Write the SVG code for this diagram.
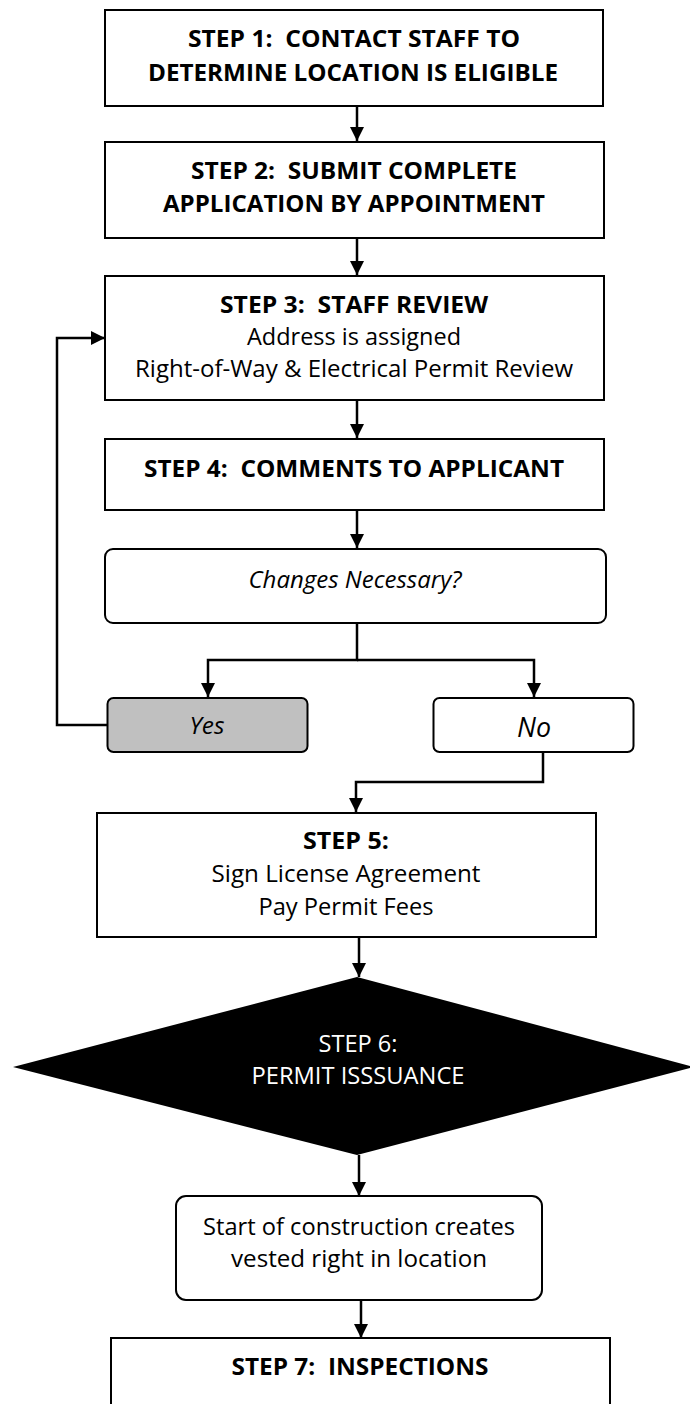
<svg xmlns="http://www.w3.org/2000/svg" width="690" height="1404" viewBox="0 0 690 1404">
<style>
.box{fill:#fff;stroke:#000;stroke-width:2}
.t{font-family:"Open Sans","Liberation Sans",sans-serif;font-size:24px;fill:#000;text-anchor:middle}
.b{font-weight:bold}
.i{font-style:italic}
.w{fill:#fff}
.c{fill:none;stroke:#000;stroke-width:2.5}
</style>
<defs>
<marker id="ah" markerUnits="userSpaceOnUse" markerWidth="14" markerHeight="14" viewBox="0 0 14 14" refX="14" refY="7" orient="auto">
<path d="M0,0 L14,7 L0,14 Z" fill="#000"/>
</marker>
</defs>
<rect width="690" height="1404" fill="#fff"/>
<g id="connectors">
<path class="c" d="M357 106 V141" marker-end="url(#ah)"/>
<path class="c" d="M357 238 V275" marker-end="url(#ah)"/>
<path class="c" d="M357 400 V438" marker-end="url(#ah)"/>
<path class="c" d="M357 510 V548" marker-end="url(#ah)"/>
<path class="c" d="M357 623 V660 H208 V697" marker-end="url(#ah)"/>
<path class="c" d="M357 660 H534 V697" marker-end="url(#ah)"/>
<path class="c" d="M107 725 H57 V338 H105" marker-end="url(#ah)"/>
<path class="c" d="M543 752 V782 H356 V812" marker-end="url(#ah)"/>
<path class="c" d="M359 937 V977" marker-end="url(#ah)"/>
<path class="c" d="M359 1155 V1196" marker-end="url(#ah)"/>
<path class="c" d="M361 1300 V1338" marker-end="url(#ah)"/>
</g>
<g id="step1">
<rect class="box" x="105" y="10" width="498" height="96"/>
<text class="t b" x="354" y="47" textLength="332" lengthAdjust="spacingAndGlyphs">STEP 1:&#160; CONTACT STAFF TO</text>
<text class="t b" x="353" y="81" textLength="410" lengthAdjust="spacingAndGlyphs">DETERMINE LOCATION IS ELIGIBLE</text>
</g>
<g id="step2">
<rect class="box" x="105" y="142" width="499" height="96"/>
<text class="t b" x="354" y="179" textLength="326" lengthAdjust="spacingAndGlyphs">STEP 2:&#160; SUBMIT COMPLETE</text>
<text class="t b" x="354" y="212" textLength="382" lengthAdjust="spacingAndGlyphs">APPLICATION BY APPOINTMENT</text>
</g>
<g id="step3">
<rect class="box" x="105" y="276" width="499" height="124"/>
<text class="t b" x="354" y="313" textLength="268" lengthAdjust="spacingAndGlyphs">STEP 3:&#160; STAFF REVIEW</text>
<text class="t" x="354" y="345" textLength="214" lengthAdjust="spacingAndGlyphs">Address is assigned</text>
<text class="t" x="354" y="377" textLength="438" lengthAdjust="spacingAndGlyphs">Right-of-Way &amp; Electrical Permit Review</text>
</g>
<g id="step4">
<rect class="box" x="105" y="439" width="499" height="71"/>
<text class="t b" x="354" y="477" textLength="420" lengthAdjust="spacingAndGlyphs">STEP 4:&#160; COMMENTS TO APPLICANT</text>
</g>
<g id="changes">
<rect class="box" x="105" y="549" width="501" height="74" rx="8"/>
<text class="t i" x="355" y="588" textLength="213" lengthAdjust="spacingAndGlyphs">Changes Necessary?</text>
</g>
<g id="yes">
<rect class="box" x="107.5" y="698" width="200" height="54" rx="6" style="fill:#c0c0c0"/>
<text class="t i" x="207" y="734" textLength="35" lengthAdjust="spacingAndGlyphs">Yes</text>
</g>
<g id="no">
<rect class="box" x="433.5" y="698" width="200" height="54" rx="6"/>
<text class="t i" x="534" y="737" style="font-size:27px" textLength="34" lengthAdjust="spacingAndGlyphs">No</text>
</g>
<g id="step5">
<rect class="box" x="97" y="813" width="499" height="124"/>
<text class="t b" x="346" y="849" textLength="86" lengthAdjust="spacingAndGlyphs">STEP 5:</text>
<text class="t" x="346" y="882" textLength="269" lengthAdjust="spacingAndGlyphs">Sign License Agreement</text>
<text class="t" x="346" y="915" textLength="175" lengthAdjust="spacingAndGlyphs">Pay Permit Fees</text>
</g>
<g id="step6">
<polygon points="357,977 694,1067 357,1155 13,1067" fill="#000"/>
<text class="t w" x="358" y="1052" textLength="79" lengthAdjust="spacingAndGlyphs">STEP 6:</text>
<text class="t w" x="358" y="1084" textLength="213" lengthAdjust="spacingAndGlyphs">PERMIT ISSSUANCE</text>
</g>
<g id="vested">
<rect class="box" x="176" y="1196" width="366" height="104" rx="10"/>
<text class="t" x="359" y="1235" textLength="312" lengthAdjust="spacingAndGlyphs">Start of construction creates</text>
<text class="t" x="359" y="1267" textLength="256" lengthAdjust="spacingAndGlyphs">vested right in location</text>
</g>
<g id="step7">
<rect class="box" x="111" y="1338" width="499" height="100"/>
<text class="t b" x="360" y="1375" textLength="257" lengthAdjust="spacingAndGlyphs">STEP 7:&#160; INSPECTIONS</text>
</g>
</svg>
